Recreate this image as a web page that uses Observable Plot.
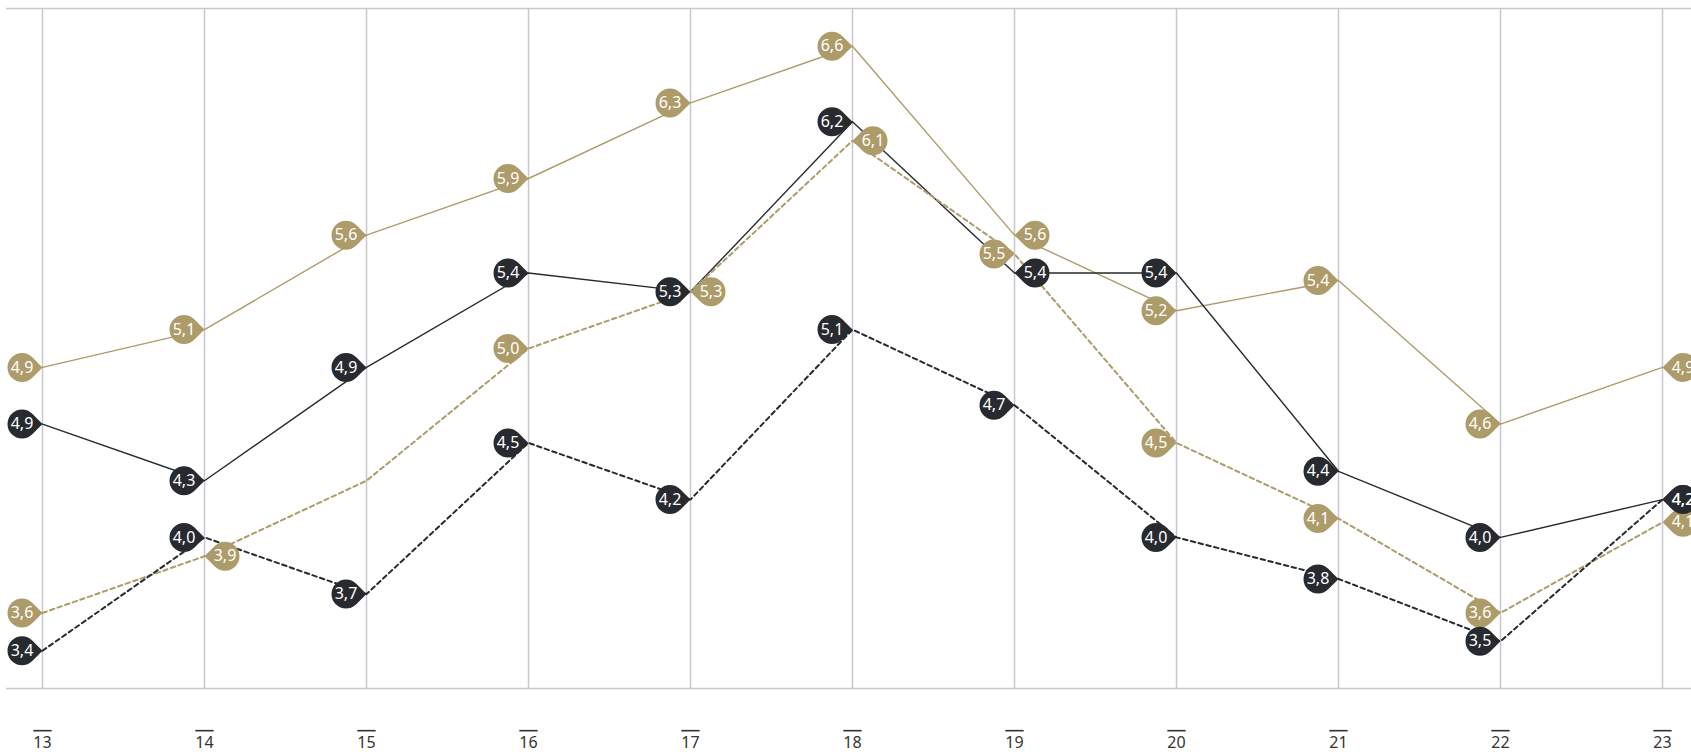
<!DOCTYPE html>
<html>
<head>
<meta charset="utf-8">
<script src="https://cdn.jsdelivr.net/npm/d3@7"></script>
<script src="https://cdn.jsdelivr.net/npm/@observablehq/plot@0.6"></script>
<style>
  html, body { margin: 0; padding: 0; background: #ffffff; }
  #chart svg { display: block; }
  .xaxis text { text-decoration: overline; }
</style>
</head>
<body>
<div id="chart"></div>
<script>
// ---- data ----
const years = [13, 14, 15, 16, 17, 18, 19, 20, 21, 22, 23];
const yearLabels = ["13", "14", "15", "16", "17", "18", "19", "20", "21", "22", "23"];
const seriesNames = ["goldSolid", "darkSolid", "goldDashed", "darkDashed"];

// plotted values
const goldSolid  = [4.9, 5.1, 5.6, 5.9, 6.3, 6.6, 5.6, 5.2, 5.36, 4.6, 4.9];
const darkSolid  = [4.6, 4.3, 4.9, 5.4, 5.3, 6.2, 5.4, 5.4, 4.35, 4.0, 4.2];
const goldDashed = [3.6, 3.9, 4.3, 5.0, 5.3, 6.1, 5.5, 4.5, 4.1, 3.6, 4.08];
const darkDashed = [3.4, 4.0, 3.7, 4.5, 4.2, 5.1, 4.7, 4.0, 3.78, 3.45, 4.2];

// label texts as printed in the markers
const goldSolidLabels  = ["4,9", "5,1", "5,6", "5,9", "6,3", "6,6", "5,6", "5,2", "5,4", "4,6", "4,9"];
const darkSolidLabels  = ["4,9", "4,3", "4,9", "5,4", "5,3", "6,2", "5,4", "5,4", "4,4", "4,0", "4,2"];
const goldDashedLabels = ["3,6", "3,9", null, "5,0", "5,3", "6,1", "5,5", "4,5", "4,1", "3,6", "4,1"];
const darkDashedLabels = ["3,4", "4,0", "3,7", "4,5", "4,2", "5,1", "4,7", "4,0", "3,8", "3,5", "4,2"];

// markers whose body sits to the right of the point (layout)
const rightPins = new Set(["goldDashed-14", "goldDashed-17", "goldDashed-18", "goldSolid-19", "darkSolid-19"]);

const yDomain = [3.2, 6.8];

// ---- build table ----
const valuesBySeries = {goldSolid, darkSolid, goldDashed, darkDashed};
const labelsBySeries = {
  goldSolid: goldSolidLabels, darkSolid: darkSolidLabels,
  goldDashed: goldDashedLabels, darkDashed: darkDashedLabels
};
const rows = [];
for (const s of seriesNames) {
  years.forEach((yr, i) => {
    const right = rightPins.has(`${s}-${yr}`) || i === years.length - 1;
    rows.push({series: s, year: yr, value: valuesBySeries[s][i], label: labelsBySeries[s][i], side: right ? "R" : "L"});
  });
}
const pins = rows.filter(d => d.label != null);

// ---- styling ----
const GOLD = "#ad9b6a";
const DARK = "#272b2f";
const GRID = "#c7c8cd";
const R = 14.5, D = 20.5;
const phi = Math.acos(R / D);
const pinLeft = {
  draw(ctx) {
    ctx.moveTo(0, 0);
    ctx.lineTo(-D + R * Math.cos(phi), -R * Math.sin(phi));
    ctx.arc(-D, 0, R, -phi, phi, true);
    ctx.closePath();
  }
};
const pinRight = {
  draw(ctx) {
    ctx.moveTo(0, 0);
    ctx.lineTo(D - R * Math.cos(phi), -R * Math.sin(phi));
    ctx.arc(D, 0, R, -(Math.PI - phi), Math.PI - phi, false);
    ctx.closePath();
  }
};

const colorOf = s => s.startsWith("gold") ? GOLD : DARK;

const lineMarks = seriesNames.map(s => Plot.line(rows.filter(d => d.series === s), {
  x: "year", y: "value",
  stroke: colorOf(s),
  strokeWidth: s.endsWith("Dashed") ? 2 : 1.4,
  strokeDasharray: s.endsWith("Dashed") ? "4.5,3.5" : null
}));

const chart = Plot.plot({
  width: 1691,
  height: 752,
  marginTop: 8,
  marginBottom: 64,
  marginLeft: 6,
  marginRight: 0,
  style: {fontFamily: "'Noto Sans', 'Open Sans', sans-serif", fontSize: "16px", background: "#ffffff", overflow: "visible"},
  x: {domain: [years[0], years[years.length - 1]], range: [42, 1662], axis: null},
  y: {domain: yDomain, axis: null},
  marks: [
    Plot.ruleX(years, {stroke: GRID, strokeWidth: 1.5}),
    Plot.ruleY(yDomain, {stroke: GRID, strokeWidth: 1.5}),
    Plot.axisX(years, {
      className: "xaxis",
      label: null,
      tickSize: 0,
      tickPadding: 48,
      tickFormat: (d) => yearLabels[years.indexOf(d)],
      fontSize: 16,
      fill: "#333333"
    }),
    ...lineMarks,
    Plot.dot(pins.filter(d => d.side === "L"), {
      x: "year", y: "value", symbol: pinLeft, fill: d => colorOf(d.series)
    }),
    Plot.dot(pins.filter(d => d.side === "R"), {
      x: "year", y: "value", symbol: pinRight, fill: d => colorOf(d.series)
    }),
    Plot.text(pins.filter(d => d.side === "L"), {
      x: "year", y: "value", text: "label", dx: -D, fill: "#ffffff", fontSize: 16
    }),
    Plot.text(pins.filter(d => d.side === "R"), {
      x: "year", y: "value", text: "label", dx: D, fill: "#ffffff", fontSize: 16
    })
  ]
});
document.getElementById("chart").appendChild(chart);
d3.select(chart).selectAll(".xaxis text, g[aria-label='x-axis tick label'] text")
  .style("text-decoration", "overline");
</script>
</body>
</html>
